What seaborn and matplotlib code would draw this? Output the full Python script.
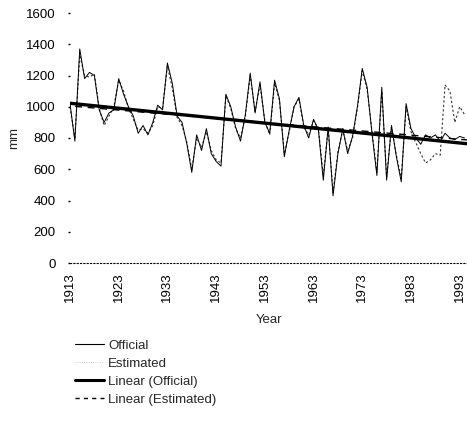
import numpy as np
import pandas as pd
import matplotlib
matplotlib.use("Agg")
import matplotlib.pyplot as plt
import seaborn as sns
from matplotlib.lines import Line2D

years = list(range(1913, 1995))
official = [1020, 780, 1370, 1180, 1220, 1200, 980, 900, 960, 980,
            1180, 1080, 1000, 940, 830, 880, 820, 900, 1010, 980,
            1280, 1150, 940, 900, 760, 580, 820, 720, 860, 700,
            650, 620, 1080, 1000, 870, 780, 950, 1215, 960, 1160,
            900, 830, 1170, 1050, 680, 850, 1000, 1060, 880, 800,
            920, 850, 530, 870, 430, 700, 860, 700, 810, 1000,
            1245, 1125, 830, 560, 1125, 530, 880, 680, 520, 1020,
            860, 800, 760, 820, 800, 820, 780, 830, 800, 790,
            810, 800]
estimated = [1000, 800, 1330, 1200, 1190, 1210, 990, 880, 940, 1000,
             1170, 1100, 990, 920, 850, 860, 830, 880, 1000, 990,
             1260, 1120, 930, 880, 770, 600, 800, 740, 840, 720,
             660, 640, 1070, 990, 860, 800, 940, 1200, 970, 1140,
             910, 820, 1150, 1040, 700, 840, 1000, 1050, 870, 820,
             910, 860, 560, 860, 450, 710, 850, 720, 800, 990,
             1230, 1110, 840, 580, 1100, 550, 870, 690, 540, 1000,
             840, 770, 700, 640, 660, 700, 690, 1140, 1100, 900,
             1000, 950]
x_ticks = [1913, 1923, 1933, 1943, 1953, 1963, 1973, 1983, 1993]
y_ticks = [0, 200, 400, 600, 800, 1000, 1200, 1400, 1600]
legend_labels = ["Official", "Estimated", "Linear (Official)", "Linear (Estimated)"]

df = pd.DataFrame({"Year": years, "Official": official, "Estimated": estimated})

sns.set_theme(style="white")
plt.rcParams["font.family"] = ["Liberation Sans", "DejaVu Sans"]

fig = plt.figure(figsize=(4.67, 4.26), dpi=100)
ax = fig.add_axes([70 / 467, 1 - 263 / 426, 397 / 467, 250 / 426])

sns.lineplot(data=df, x="Year", y="Estimated", ax=ax, color="#333333",
             linewidth=0.8, linestyle=(0, (2, 2)))
sns.lineplot(data=df, x="Year", y="Official", ax=ax, color="black",
             linewidth=0.7)
sns.regplot(data=df, x="Year", y="Official", ax=ax, scatter=False, ci=None,
            truncate=False, line_kws={"color": "black", "linewidth": 2.4})
sns.regplot(data=df, x="Year", y="Estimated", ax=ax, scatter=False, ci=None,
            truncate=False, line_kws={"color": "black", "linewidth": 1.0,
                                      "linestyle": (0, (5, 4))})

ax.set_xlim(1913, 1994.5)
ax.set_ylim(0, 1600)
ax.set_xticks(x_ticks)
ax.set_xticklabels([str(t) for t in x_ticks], rotation=90, fontsize=9.5)
ax.set_yticks(y_ticks)
ax.set_yticklabels([str(t) for t in y_ticks], fontsize=9.5)
ax.tick_params(axis="both", length=2, width=1, pad=5, colors="black")
ax.tick_params(axis="y", left=True, right=True, length=1.5, pad=9)
ax.set_xlabel("Year", fontsize=9.5, labelpad=8)
ax.set_ylabel("mm", fontsize=9.5, labelpad=4)
for side in ["left", "right", "top"]:
    ax.spines[side].set_visible(False)
ax.spines["bottom"].set_linestyle((0, (1, 2)))
ax.spines["bottom"].set_linewidth(0.8)
ax.spines["bottom"].set_color("black")

handles = [
    Line2D([0], [0], color="black", linewidth=0.8),
    Line2D([0], [0], color="#bbbbbb", linewidth=0.6, linestyle=":"),
    Line2D([0], [0], color="black", linewidth=2.2),
    Line2D([0], [0], color="black", linewidth=1.0, linestyle=(0, (3, 3))),
]
fig.legend(handles, legend_labels, loc="upper left",
           bbox_to_anchor=(70 / 467, 1 - 334 / 426), frameon=False,
           fontsize=9.5, handlelength=2.2, handletextpad=0.3, labelspacing=0.45,
           borderaxespad=0)

fig.savefig("out.png", dpi=100)
